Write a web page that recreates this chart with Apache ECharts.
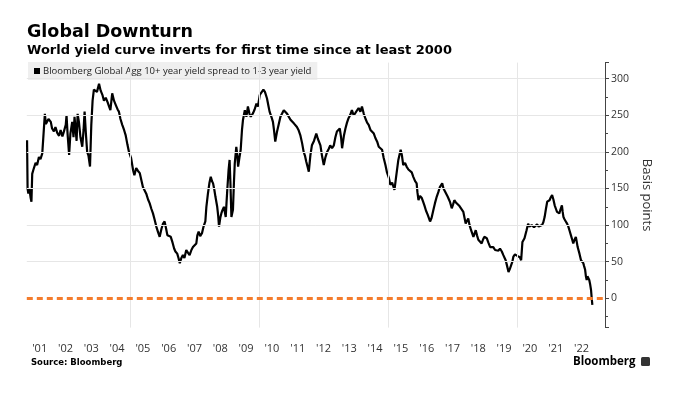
<!DOCTYPE html>
<html>
<head>
<meta charset="utf-8">
<script src="https://cdn.jsdelivr.net/npm/echarts@6/dist/echarts.min.js"></script>
<style>
  html, body { margin: 0; padding: 0; background: #ffffff; }
  #chart { width: 675px; height: 396px; }
</style>
</head>
<body>
<div id="chart"></div>
<script>
// ---- Data (decimal years, basis points) ----
const years = [
2001.01,2001.03,2001.06,2001.10,2001.15,2001.18,2001.21,2001.25,2001.34,2001.40,2001.47,2001.53,2001.60,2001.67,2001.70,2001.74,2001.79,2001.84,2001.93,2001.98,
2002.05,2002.11,2002.18,2002.25,2002.31,2002.38,2002.44,2002.51,2002.54,2002.58,2002.64,2002.69,2002.76,2002.81,2002.85,2002.90,2002.93,2002.97,
2003.02,2003.08,2003.15,2003.20,2003.24,2003.29,2003.34,2003.39,2003.45,2003.50,2003.55,2003.60,2003.67,2003.72,2003.80,2003.86,2003.93,2003.99,
2004.06,2004.13,2004.19,2004.24,2004.31,2004.38,2004.45,2004.52,2004.57,2004.63,2004.70,2004.77,2004.83,2004.90,2004.96,
2005.04,2005.12,2005.17,2005.24,2005.31,2005.38,2005.45,2005.50,2005.63,2005.70,2005.76,2005.83,2005.89,2005.95,
2006.02,2006.09,2006.15,2006.22,2006.28,2006.34,2006.40,2006.45,2006.51,2006.58,2006.65,2006.71,2006.76,2006.83,2006.88,2006.93,2006.99,
2007.05,2007.11,2007.18,2007.25,2007.31,2007.38,2007.44,2007.50,2007.57,2007.61,2007.66,2007.72,2007.79,2007.85,2007.92,2007.96,
2008.02,2008.08,2008.13,2008.18,2008.22,2008.27,2008.31,2008.38,2008.42,2008.45,2008.50,2008.54,2008.58,2008.64,2008.71,2008.74,2008.77,2008.82,2008.86,2008.89,2008.93,2008.99,
2009.03,2009.06,2009.12,2009.16,2009.19,2009.24,2009.29,2009.34,2009.38,2009.45,2009.51,2009.57,2009.63,2009.68,2009.77,2009.83,2009.90,2009.96,
2010.03,2010.10,2010.17,2010.23,2010.31,2010.37,2010.41,2010.48,2010.54,2010.58,2010.63,2010.70,2010.76,2010.83,2010.89,2010.96,
2011.03,2011.09,2011.15,2011.22,2011.28,2011.35,2011.47,2011.53,2011.60,2011.67,2011.73,2011.78,2011.83,2011.88,2011.93,2011.99,
2012.05,2012.13,2012.22,2012.28,2012.38,2012.44,2012.51,2012.57,2012.64,2012.70,2012.76,2012.83,2012.90,2012.96,
2013.02,2013.13,2013.18,2013.22,2013.29,2013.35,2013.41,2013.47,2013.53,2013.60,2013.67,2013.73,2013.80,2013.86,2013.93,2013.99,
2014.06,2014.12,2014.19,2014.25,2014.32,2014.38,2014.45,2014.51,2014.58,2014.64,2014.70,2014.77,2014.83,2014.90,2014.96,
2015.03,2015.09,2015.16,2015.25,2015.31,2015.40,2015.49,2015.54,2015.59,2015.66,2015.72,2015.79,2015.85,2015.92,2015.98,
2016.05,2016.11,2016.14,2016.18,2016.24,2016.31,2016.36,2016.41,2016.47,2016.54,2016.63,2016.69,2016.76,2016.82,2016.89,2016.95,
2017.01,2017.10,2017.15,2017.20,2017.31,2017.40,2017.47,2017.52,2017.57,2017.63,2017.70,2017.77,2017.83,2017.92,
2018.01,2018.06,2018.11,2018.16,2018.22,2018.31,2018.40,2018.45,2018.50,2018.57,2018.63,2018.68,2018.73,2018.83,2018.89,2018.96,
2019.02,2019.08,2019.15,2019.21,2019.28,2019.34,2019.41,2019.47,2019.56,2019.61,2019.67,2019.72,2019.77,2019.82,2019.86,2019.92,2019.97,
2020.01,2020.05,2020.11,2020.16,2020.21,2020.29,2020.37,2020.43,2020.48,2020.52,2020.57,2020.61,2020.66,2020.71,2020.78,2020.84,2020.91,2020.97,
2021.02,2021.07,2021.12,2021.17,2021.22,2021.26,2021.31,2021.36,2021.41,2021.46,2021.51,2021.55,2021.61,2021.64,2021.69,2021.74,2021.77,2021.80,2021.84,2021.89,2021.94,2021.99,
2022.04,2022.09,2022.14,2022.18,2022.23,2022.28,2022.32,2022.35,2022.42,2022.48,2022.53,2022.57,2022.60,2022.64,2022.67,2022.70,2022.73,2022.76,2022.80,2022.83,2022.87,2022.89,2022.92
];
const spreadBp = [
216,150,143,150,137,132,170,175,185,182,193,190,198,200,252,238,236,245,241,232,
228,234,226,222,230,221,228,237,250,225,196,225,241,220,248,250,215,252,
241,220,207,230,255,225,200,195,180,237,270,285,287,282,293,284,278,270,
274,268,262,257,280,270,264,258,255,245,237,230,223,210,200,
192,175,168,178,174,171,160,152,143,135,130,122,116,108,
98,90,84,95,102,105,95,86,88,84,76,68,64,61,55,48,55,
59,55,66,62,59,66,70,72,75,86,91,85,89,98,105,125,
143,158,166,160,157,148,139,125,112,98,110,116,120,125,111,130,148,175,189,160,111,121,
160,184,207,195,180,192,203,230,244,257,248,262,252,248,253,258,266,262,
278,276,285,282,273,262,255,248,241,230,214,228,237,248,252,257,
255,252,250,244,246,239,234,230,223,212,200,195,187,180,173,195,
209,215,225,218,209,195,182,192,200,204,209,205,209,220,
228,232,220,205,222,232,240,246,250,257,250,253,255,260,255,262,
252,246,240,237,230,228,225,219,214,207,205,203,192,182,172,
165,155,158,148,165,189,203,195,182,185,180,176,178,172,166,
160,157,145,134,140,137,132,127,120,114,105,110,121,130,139,145,
152,157,150,148,139,132,123,128,134,131,130,126,127,118,
102,106,109,100,93,84,93,86,80,78,75,80,84,82,76,70,
72,70,66,68,65,68,64,59,52,45,36,40,45,50,57,60,61,
58,59,56,52,77,82,93,102,98,96,100,102,97,98,101,98,97,100,
104,111,122,132,130,134,138,141,135,127,122,118,120,116,122,127,118,111,108,105,102,98,
92,86,80,75,80,84,76,70,61,52,50,48,44,39,30,25,30,32,25,20,11,2,-9
];
const yearLabels = ["'01","'02","'03","'04","'05","'06","'07","'08","'09","'10","'11","'12","'13","'14","'15","'16","'17","'18","'19","'20","'21","'22"];
const firstYear = 2001;
const gridYears = [2005, 2010, 2015, 2020];
const gridValues = [50, 100, 150, 200, 250, 300];
const zeroLine = 0;
const seriesName = 'Bloomberg Global Agg 10+ year yield spread to 1-3 year yield';

const lineData = years.map((y, i) => [y, spreadBp[i]]);
const labelPositions = yearLabels.map((_, i) => firstYear + i + 0.5);

const chart = echarts.init(document.getElementById('chart'), null, { renderer: 'canvas' });
const sansFont = '"Open Sans", "Liberation Sans", sans-serif';
const boldFont = '"DejaVu Sans", "Liberation Sans", sans-serif';

chart.setOption({
  animation: false,
  backgroundColor: '#ffffff',
  title: [
    { text: 'Global Downturn', left: 27, top: 23, padding: 0,
      textStyle: { fontFamily: boldFont, fontSize: 17.5, fontWeight: 'bold', color: '#000' } },
    { text: 'World yield curve inverts for first time since at least 2000', left: 27, top: 44.5, padding: 0,
      textStyle: { fontFamily: boldFont, fontSize: 13, fontWeight: 'bold', color: '#000' } },
    { text: 'Source: Bloomberg', left: 31, top: 358, padding: 0,
      textStyle: { fontFamily: boldFont, fontSize: 8.5, fontWeight: 'bold', color: '#000' } },
    { text: 'Bloomberg', left: 573, top: 355.5, padding: 0,
      textStyle: { fontFamily: sansFont, fontSize: 11.5, fontWeight: 'bold', color: '#000' } }
  ],
  graphic: [
    { type: 'rect', left: 641, top: 357, shape: { width: 9, height: 9, r: 1.5 }, style: { fill: '#333' } }
  ],
  legend: {
    left: 28, top: 62,
    padding: [4, 6, 4, 6],
    backgroundColor: '#efefef',
    icon: 'rect', itemWidth: 6, itemHeight: 6,
    textStyle: { fontFamily: sansFont, fontSize: 9.5, color: '#222', padding: [0, 0, 0, -2] },
    data: [{ name: seriesName, itemStyle: { color: '#000' } }]
  },
  grid: { left: 26.8, right: 70, top: 62.6, bottom: 68.4 },
  xAxis: {
    type: 'value', min: 2001, max: 2023.41,
    axisLine: { show: false }, axisTick: { show: false },
    splitLine: { show: false },
    axisLabel: {
      customValues: labelPositions,
      margin: 16,
      fontFamily: sansFont, fontSize: 11, color: '#333',
      formatter: v => yearLabels[Math.floor(v) - firstYear] || ''
    }
  },
  yAxis: {
    type: 'value', position: 'right', min: -40, max: 322, splitNumber: 7,
    name: 'Basis points', nameLocation: 'middle', nameRotate: -90, nameGap: 33,
    nameTextStyle: { fontFamily: sansFont, fontSize: 13, color: '#333' },
    axisLine: { show: true, lineStyle: { color: '#444', width: 1 } },
    axisTick: { show: true, length: 4, lineStyle: { color: '#444' } },
    minorTick: { show: true, splitNumber: 2, length: 3, lineStyle: { color: '#444' } },
    axisLabel: { margin: 6, fontFamily: sansFont, fontSize: 10.5, color: '#333',
      showMinLabel: false, showMaxLabel: false },
    splitLine: { show: false }
  },
  series: [
    {
      name: 'grid', type: 'line', data: [], z: 1, silent: true,
      markLine: {
        silent: true, symbol: 'none', label: { show: false },
        lineStyle: { color: '#e6e6e6', width: 1, type: 'solid' },
        data: gridValues.map(v => ({ yAxis: v })).concat(gridYears.map(v => ({ xAxis: v })))
      }
    },
    {
      name: 'zero', type: 'line', data: [], z: 2, silent: true,
      markLine: {
        silent: true, symbol: 'none', label: { show: false },
        lineStyle: { color: '#f47c2c', width: 3, type: [6, 4] },
        data: [{ yAxis: zeroLine }]
      }
    },
    {
      name: seriesName, type: 'line', data: lineData, z: 3,
      showSymbol: false, symbol: 'none',
      lineStyle: { color: '#000', width: 2.2 },
      itemStyle: { color: '#000' }
    }
  ]
});
</script>
</body>
</html>
